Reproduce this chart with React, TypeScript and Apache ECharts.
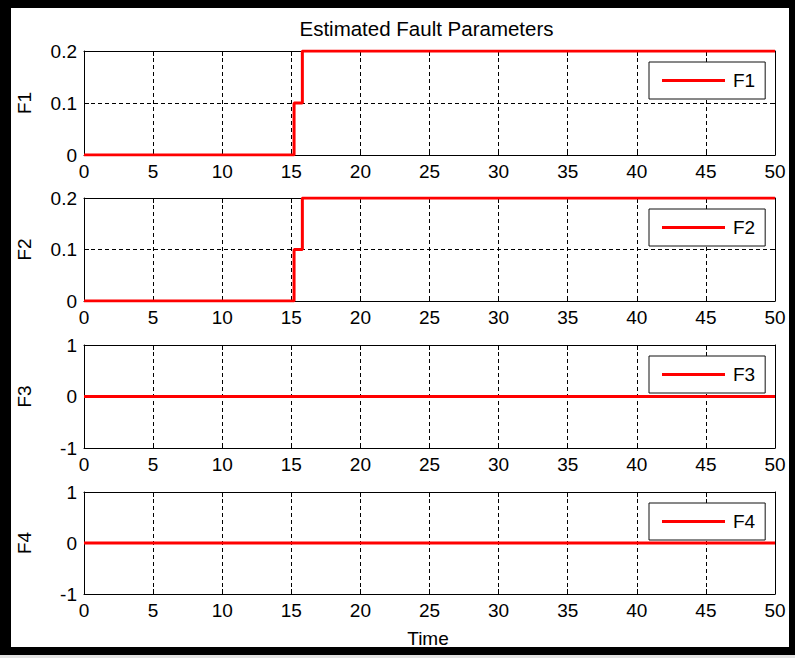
import React, { useEffect, useRef } from "react";
import * as echarts from "echarts";

// ---- data ----
const seriesNames = ["F1", "F2", "F3", "F4"];
const timeF1 = [0, 15.2, 15.2, 15.8, 15.8, 50];
const valuesF1 = [0, 0, 0.1, 0.1, 0.2, 0.2];
const timeF2 = [0, 15.2, 15.2, 15.8, 15.8, 50];
const valuesF2 = [0, 0, 0.1, 0.1, 0.2, 0.2];
const timeF3 = [0, 50];
const valuesF3 = [0, 0];
const timeF4 = [0, 50];
const valuesF4 = [0, 0];
const xRange = [0, 50, 5]; // min, max, interval
const yRangeF1 = [0, 0.2, 0.1];
const yRangeF2 = [0, 0.2, 0.1];
const yRangeF3 = [-1, 1, 1];
const yRangeF4 = [-1, 1, 1];
const titleText = "Estimated Fault Parameters";
const xLabel = "Time";

const FONT = "'Liberation Sans', Arial, sans-serif";

export default function App() {
  const ref = useRef<HTMLDivElement>(null);

  useEffect(() => {
    if (!ref.current) return;
    const chart = echarts.init(ref.current, undefined, { renderer: "svg" });

    const times = [timeF1, timeF2, timeF3, timeF4];
    const values = [valuesF1, valuesF2, valuesF3, valuesF4];
    const yRanges = [yRangeF1, yRangeF2, yRangeF3, yRangeF4];
    const panels = [
      { top: 51, height: 104 },
      { top: 198, height: 103 },
      { top: 345, height: 103 },
      { top: 492, height: 102 },
    ];
    const left = 84;
    const width = 691;

    const axisLine = { show: true, onZero: false, lineStyle: { color: "#000", width: 1 } };
    const tickInside = { show: true, inside: true, length: 5, lineStyle: { color: "#000" } };
    const dashed = { show: true, lineStyle: { color: "#000", width: 1, type: [4, 3] } };
    const labelStyle = { color: "#000", fontSize: 19, fontFamily: FONT };

    const grids = panels.map((p) => ({ left, top: p.top, width, height: p.height, containLabel: false }));

    const xAxes: any[] = [];
    const yAxes: any[] = [];
    panels.forEach((_, i) => {
      xAxes.push({
        type: "value", gridIndex: i, position: "bottom",
        min: xRange[0], max: xRange[1], interval: xRange[2],
        axisLine, axisTick: tickInside, splitLine: dashed,
        axisLabel: { ...labelStyle, margin: 7, showMinLabel: true, showMaxLabel: true },
      });
    });
    panels.forEach((_, i) => {
      xAxes.push({
        type: "value", gridIndex: i, position: "top",
        min: xRange[0], max: xRange[1], interval: xRange[2],
        axisLine, axisTick: tickInside, splitLine: { show: false }, axisLabel: { show: false },
      });
    });
    panels.forEach((_, i) => {
      const r = yRanges[i];
      yAxes.push({
        type: "value", gridIndex: i, position: "left",
        min: r[0], max: r[1], interval: r[2],
        axisLine, axisTick: tickInside, splitLine: dashed,
        axisLabel: { ...labelStyle, margin: 7 },
      });
    });
    panels.forEach((_, i) => {
      const r = yRanges[i];
      yAxes.push({
        type: "value", gridIndex: i, position: "right",
        min: r[0], max: r[1], interval: r[2],
        axisLine, axisTick: tickInside, splitLine: { show: false }, axisLabel: { show: false },
      });
    });

    const series = seriesNames.map((name, i) => ({
      name, type: "line", xAxisIndex: i, yAxisIndex: i,
      data: times[i].map((t, k) => [t, values[i][k]]),
      symbol: "none", showSymbol: false,
      lineStyle: { color: "#ff0000", width: 3 },
      itemStyle: { color: "#ff0000" },
      z: 3,
    }));

    const legends = seriesNames.map((name, i) => ({
      data: [name], left: 649, top: panels[i].top + 11,
      orient: "horizontal", icon: "rect", itemWidth: 63, itemHeight: 3,
      padding: [9, 10, 9, 13], borderColor: "#111", borderWidth: 1,
      backgroundColor: "#fff",
      textStyle: { color: "#000", fontSize: 19, fontFamily: FONT, padding: [0, 0, 0, 3] },
      selectedMode: false,
    }));

    const graphic: any[] = [
      { type: "text", x: 426.5, y: 28, style: { text: titleText, fill: "#000", font: `20.5px ${FONT}`, align: "center", verticalAlign: "middle" } },
      { type: "text", x: 428, y: 638, style: { text: xLabel, fill: "#000", font: `19px ${FONT}`, align: "center", verticalAlign: "middle" } },
      ...seriesNames.map((name, i) => ({
        type: "text", x: 24.5, y: panels[i].top + panels[i].height / 2, rotation: Math.PI / 2,
        style: { text: name, fill: "#000", font: `19px ${FONT}`, align: "center", verticalAlign: "middle" },
      })),
      // black frame around the figure
      { type: "rect", shape: { x: 0, y: 0, width: 11, height: 655 }, style: { fill: "#000" } },
      { type: "rect", shape: { x: 0, y: 0, width: 795, height: 8 }, style: { fill: "#000" } },
      { type: "rect", shape: { x: 789, y: 0, width: 6, height: 655 }, style: { fill: "#000" } },
      { type: "rect", shape: { x: 0, y: 647, width: 795, height: 8 }, style: { fill: "#000" } },
      { type: "rect", shape: { x: 0, y: 655, width: 795, height: 3 }, style: { fill: "#e3e3e3" } },
    ];

    chart.setOption({
      animation: false,
      backgroundColor: "#fff",
      grid: grids,
      xAxis: xAxes,
      yAxis: yAxes,
      legend: legends,
      series,
      graphic,
    });
    return () => chart.dispose();
  }, []);

  return (
    <div
      ref={ref}
      style={{ position: "fixed", left: 0, top: 0, width: 795, height: 658 }}
    />
  );
}
